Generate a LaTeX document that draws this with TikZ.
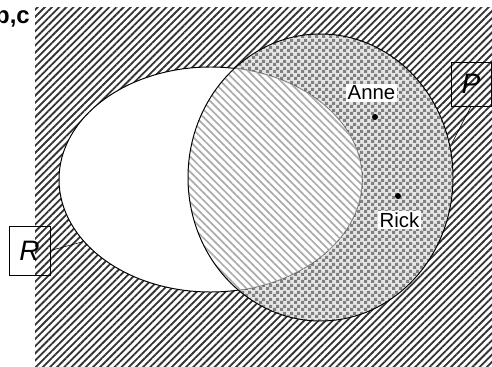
\documentclass[tikz,border=0pt]{standalone}
\usepackage{fontspec}
\setmainfont{Liberation Sans}
\usetikzlibrary{patterns.meta}

\pgfdeclarepattern{
  name=smallchecks,
  type=uncolored,
  bottom left={\pgfpointorigin},
  top right={\pgfpoint{5pt}{5pt}},
  tile size={\pgfpoint{5pt}{5pt}},
  code={
    \pgfpathrectangle{\pgfpointorigin}{\pgfpoint{2.5pt}{2.5pt}}
    \pgfpathrectangle{\pgfpoint{2.5pt}{2.5pt}}{\pgfpoint{2.5pt}{2.5pt}}
    \pgfusepath{fill}
  }
}

\tikzset{
  setline/.style={line width=0.7pt},
  hatchout/.style={pattern={Lines[angle=45,distance=3.6pt,line width=1.3pt]},pattern color=black!80},
  hatchin/.style={pattern={Lines[angle=-45,distance=3.8pt,line width=1.2pt]},pattern color=gray!65},
  namelbl/.style={fill=white,inner sep=1.2pt,font=\fontsize{14.5}{16}\selectfont},
  setlbl/.style={draw,line width=0.5pt,inner sep=0pt,font=\fontsize{20}{22}\selectfont\itshape},
}

\begin{document}
\begin{tikzpicture}[x=0.025cm,y=-0.025cm]
        \useasboundingbox (0,0) rectangle (492,367);
        % universe
        \fill[white] (35,8) rectangle (492,367);
        \fill[hatchout] (35,8) rectangle (492,367);
        % set P
        \fill[gray!20] (320.5,177.5) ellipse [x radius=132.5,y radius=143.5];
        \fill[pattern=smallchecks,pattern color=black!50] (320.5,177.5) ellipse [x radius=132.5,y radius=143.5];
        % set R
        \filldraw[fill=white,setline] (210.5,179.5) ellipse [x radius=151.5,y radius=112.5];
        \begin{scope}
          \clip (320.5,177.5) ellipse [x radius=132.5,y radius=143.5];
          \fill[white] (210.5,179.5) ellipse [x radius=151.5,y radius=112.5];
          \fill[hatchin] (210.5,179.5) ellipse [x radius=151.5,y radius=112.5];
          \draw[gray!70,line width=0.4pt] (210.5,179.5) ellipse [x radius=151.5,y radius=112.5];
        \end{scope}
        \draw[setline] (320.5,177.5) ellipse [x radius=132.5,y radius=143.5];
        % elements
        \foreach \x/\y in {375/117,398/196} {
            \fill[black] (\x,\y) circle (3);
          }
        \node[namelbl] (anne) at (371.5,93) {Anne};
        \node[namelbl] (rick) at (399.5,220) {Rick};
        % set labels
        \node[setlbl,minimum width=1.0cm,minimum height=1.1cm] (labP) at (471,84) {P};
        \node[setlbl,minimum width=1.025cm,minimum height=1.225cm] (labR) at (29.5,250.5) {R};
        \coordinate (pEdge) at (452,143);
        \coordinate (rEdge) at (82,242);
        \draw[line width=0.4pt] (labP.south) -- (pEdge);
        \draw[line width=0.4pt] (labR.east) -- (rEdge);
        \node[anchor=east,inner sep=0pt,font=\fontsize{17}{19}\selectfont\bfseries] (part) at (30,17) {b,c};
      \end{tikzpicture}
\end{document}
